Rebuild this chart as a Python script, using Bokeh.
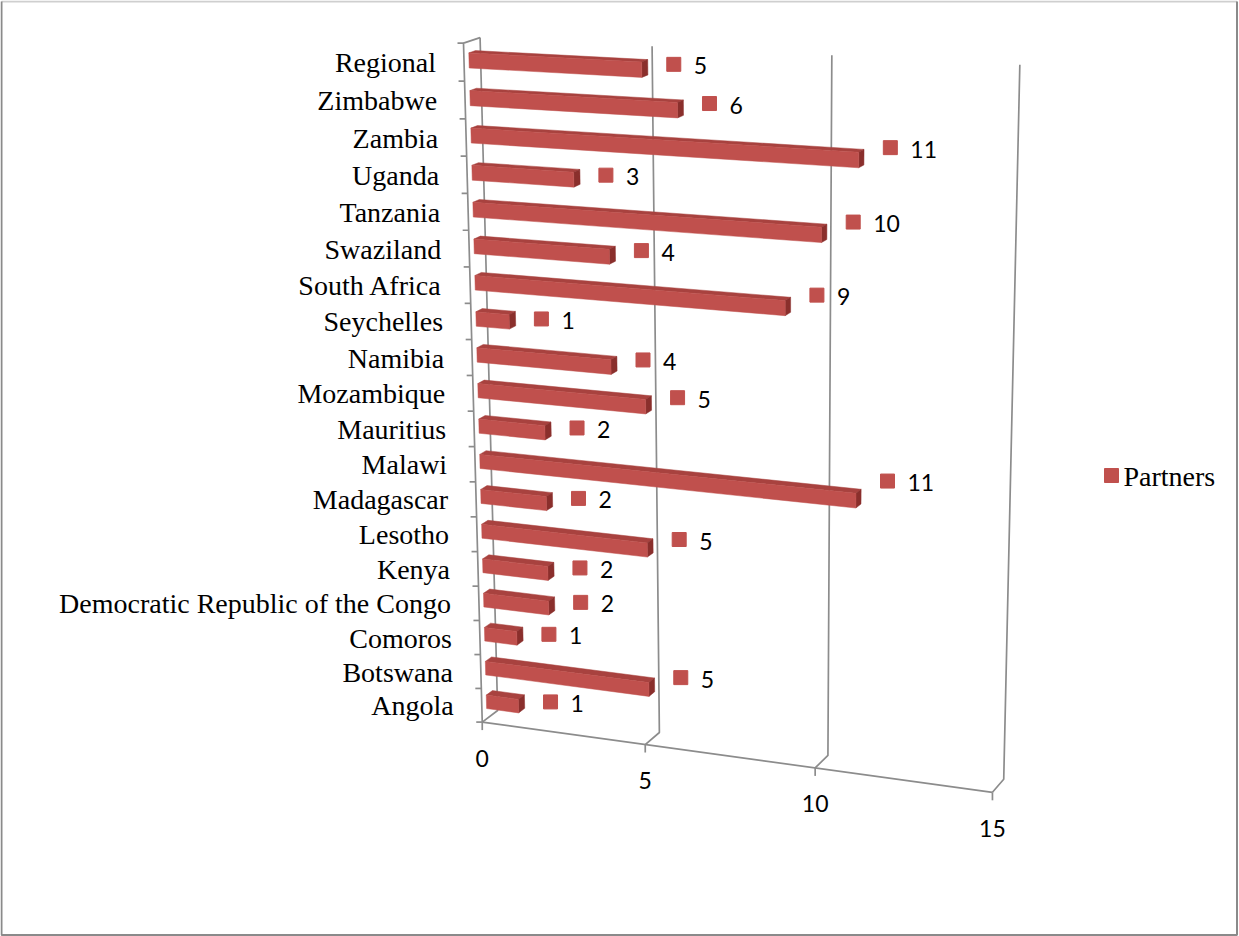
import numpy as np
from bokeh.plotting import figure
from bokeh.models import Range1d
from bokeh.core.properties import value
from bokeh.embed import file_html
from bokeh.resources import INLINE

# ---- data (bottom to top on the category axis) ----
countries = [
    "Angola", "Botswana", "Comoros", "Democratic Republic of the Congo",
    "Kenya", "Lesotho", "Madagascar", "Malawi", "Mauritius", "Mozambique",
    "Namibia", "Seychelles", "South Africa", "Swaziland", "Tanzania",
    "Uganda", "Zambia", "Zimbabwe", "Regional",
]
partners = [1, 5, 1, 2, 2, 5, 2, 11, 2, 5, 4, 1, 9, 4, 10, 3, 11, 6, 5]
value_ticks = [0, 5, 10, 15]
value_tick_labels = ["0", "5", "10", "15"]
series_name = "Partners"

W, H = 1239, 936
N = len(countries)
VMAX = value_ticks[-1]

# ---- perspective camera for the 3-D plot box ----
# world: X = value, Y = category slot (0 bottom .. N top), Z = depth (0 front, 1 back)
box_world = [
    (0, N, 0), (0, N, 1), (0, 0, 0), (0, 0, 1),
    (5, 0, 0), (10, 0, 0), (15, 0, 0),
    (5, 0, 1), (10, 0, 1), (15, 0, 1),
    (10, N, 1), (15, N, 1),
    (0, N - 1, 0), (0, N - 2, 0), (0, 1, 0), (0, 4, 0),
]
box_screen = [
    (463, 43), (481, 37), (482, 721), (496, 710),
    (645, 745), (815, 768), (992, 791),
    (659, 732), (827, 755), (1003, 779),
    (832, 55), (1019, 64),
    (463, 81), (464, 118), (481, 688), (479, 585),
]


def fit_camera(world, screen):
    w = np.asarray(world, float)
    s = np.asarray(screen, float)
    sm, ss = s.mean(0), s.std()
    wm, ws = w.mean(0), w.std(0)
    ws[ws == 0] = 1
    sn = (s - sm) / ss
    wn = (w - wm) / ws
    rows = []
    for (X, Y, Z), (u, v) in zip(wn, sn):
        rows.append([X, Y, Z, 1, 0, 0, 0, 0, -u * X, -u * Y, -u * Z, -u])
        rows.append([0, 0, 0, 0, X, Y, Z, 1, -v * X, -v * Y, -v * Z, -v])
    _, _, vt = np.linalg.svd(np.asarray(rows))
    P = vt[-1].reshape(3, 4)
    Tw = np.eye(4)
    Tw[:3, :3] = np.diag(1 / ws)
    Tw[:3, 3] = -wm / ws
    Ts = np.array([[ss, 0, sm[0]], [0, ss, sm[1]], [0, 0, 1]])
    return Ts @ P @ Tw


CAM = fit_camera(box_world, box_screen)


def proj(X, Y, Z):
    X, Y, Z = np.broadcast_arrays(np.asarray(X, float), np.asarray(Y, float),
                                  np.asarray(Z, float))
    pts = np.stack([X, Y, Z, np.ones_like(X)])
    q = np.tensordot(CAM, pts, axes=1)
    return q[0] / q[2], q[1] / q[2]


p = figure(width=W, height=H, x_range=Range1d(0, W), y_range=Range1d(H, 0),
           min_border=0, output_backend="svg", toolbar_location=None)
p.axis.visible = False
p.grid.visible = False
p.outline_line_color = None
p.background_fill_color = "white"
p.border_fill_color = "white"

GRID = "#8c8c8c"
SERIF = value("Liberation Serif")
SANS = value("Lato")

# chart area border: light top edge, darker sides and bottom
p.segment(x0=[1], y0=[1], x1=[W - 2.5], y1=[1], line_color="#cfcfcf",
          line_width=2)
p.multi_line([[1, 1, W - 2.5, W - 2.5]], [[1, H - 1.5, H - 1.5, 1]],
             line_color="#8a8a8a", line_width=2)

# ---- walls, gridlines, axes ----
xs, ys = [], []
for t in value_ticks:
    bx, by = proj([t, t, t], [0, N, 0], [1, 1, 1])
    fx, fy = proj(t, 0, 0)
    # back-wall gridline and its floor segment
    xs.append([float(fx), bx[0], bx[1]])
    ys.append([float(fy), by[0], by[1]])
    # tick below the front edge
    xs.append([float(fx), float(fx)])
    ys.append([float(fy), float(fy) + 8])
# front floor edge
ex, ey = proj([0, VMAX], [0, 0], [0, 0])
xs.append(list(ex)); ys.append(list(ey))
# left wall: front axis and its top edge
ax_, ay_ = proj([0, 0, 0], [0, N, N], [0, 0, 1])
xs.append(list(ax_)); ys.append(list(ay_))
# category ticks
for c in range(N + 1):
    cx, cy = proj(0, c, 0)
    xs.append([float(cx) - 6, float(cx)])
    ys.append([float(cy), float(cy)])
p.multi_line(xs, ys, line_color=GRID, line_width=1.7)

# ---- 3-D bars ----
LO, HI = 0.3, 0.7      # bar extent inside its category slot
ZF, ZB = 0.3, 0.7      # bar extent in depth
FRONT, TOP, END = "#C0504D", "#A8423F", "#8A2F2C"

face_x, face_y, face_c = [], [], []
for i, v in enumerate(partners):
    faces = [
        (TOP, [0, v, v, 0], [i + HI] * 4, [ZF, ZF, ZB, ZB]),
        (END, [v, v, v, v], [i + LO, i + HI, i + HI, i + LO], [ZF, ZF, ZB, ZB]),
        (FRONT, [0, v, v, 0], [i + LO, i + LO, i + HI, i + HI], [ZF] * 4),
    ]
    for col, X, Y, Z in faces:
        fx, fy = proj(X, Y, Z)
        face_x.append(list(fx)); face_y.append(list(fy)); face_c.append(col)
p.patches(face_x, face_y, fill_color=face_c, line_color=face_c, line_width=0.5)

# ---- data labels ----
lab_x, lab_y, lab_t = [], [], []
for i, v in enumerate(partners):
    sx0, sy0 = proj(0, i + 0.5, 0.5)
    sx1, sy1 = proj(v, i + 0.5, 0.5)
    lab_x.append(float(sx1) + 29)
    lab_y.append(float(sy0) + 0.55 * float(sy1 - sy0))
    lab_t.append(str(v))
p.scatter(lab_x, lab_y, marker="square", size=14, fill_color=FRONT,
          line_color=FRONT)
p.text([x + 20 for x in lab_x], [y + 1.5 for y in lab_y], text=lab_t,
       text_font=SANS, text_font_size="23px", text_color="black",
       text_align="left", text_baseline="middle")

# ---- category labels ----
cx, cy = proj(np.zeros(N), np.arange(N) + 0.5, np.zeros(N))
p.text(list(cx - 28), list(cy + 0.5), text=countries,
       text_font=SERIF, text_font_size="28px",
       text_color="black", text_align="right", text_baseline="middle")

# ---- value axis labels ----
tx, ty = proj(value_ticks, np.zeros(len(value_ticks)), np.zeros(len(value_ticks)))
p.text(list(tx), list(ty + 36), text=value_tick_labels,
       text_font=SANS, text_font_size="23px", text_color="black",
       text_align="center", text_baseline="middle")

# ---- legend ----
p.scatter([1111], [475], marker="square", size=14, fill_color=FRONT,
          line_color=FRONT)
p.text([1123], [476], text=[series_name], text_font=SERIF,
       text_font_size="28px", text_color="black", text_align="left",
       text_baseline="middle")

open("out.html", "w").write(file_html(p, INLINE))
